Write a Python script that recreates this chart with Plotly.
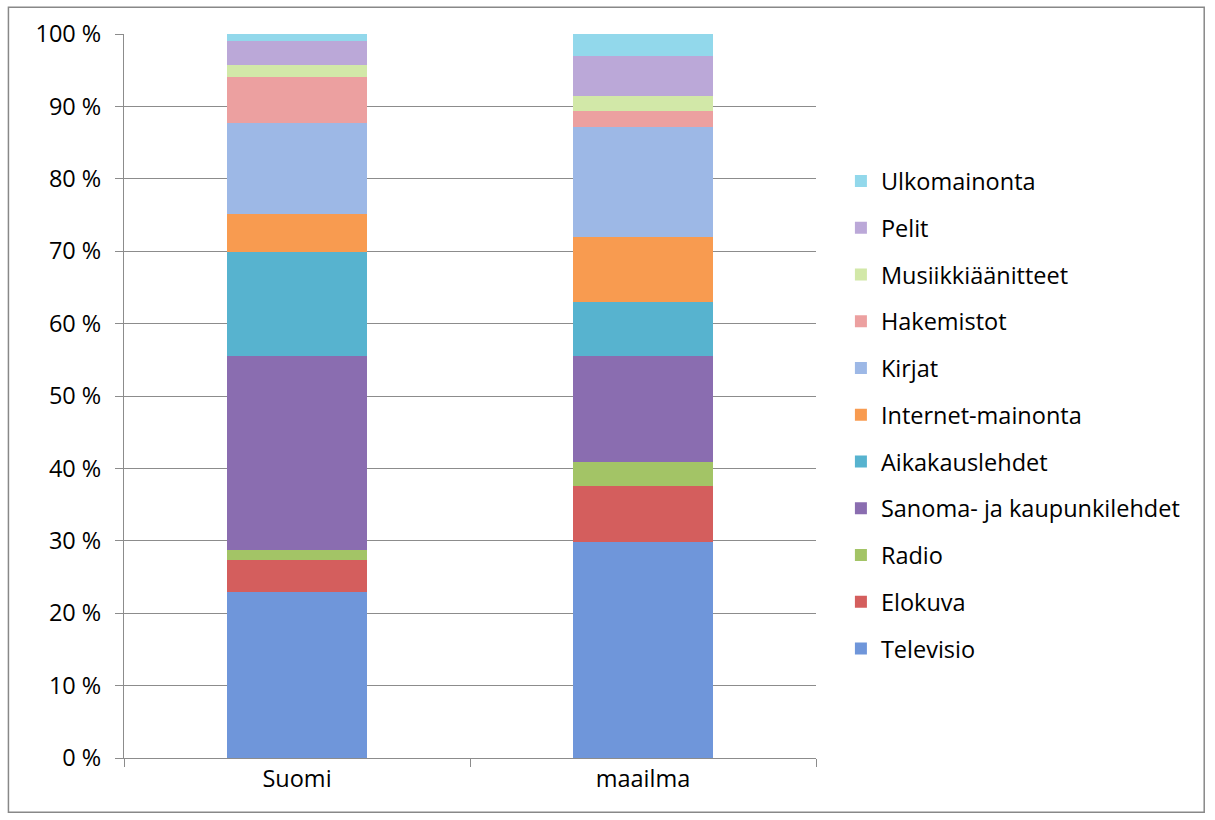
import plotly.graph_objects as go

categories = ["Suomi", "maailma"]
series_names = ["Televisio", "Elokuva", "Radio", "Sanoma- ja kaupunkilehdet", "Aikakauslehdet",
                "Internet-mainonta", "Kirjat", "Hakemistot", "Musiikkiäänitteet", "Pelit", "Ulkomainonta"]
televisio = [22.9, 29.9]
elokuva = [4.5, 7.7]
radio = [1.3, 3.3]
sanoma = [26.8, 14.6]
aikakaus = [14.4, 7.5]
internet = [5.2, 9.0]
kirjat = [12.6, 15.1]
hakemistot = [6.3, 2.2]
musiikki = [1.7, 2.1]
pelit = [3.4, 5.6]
ulko = [0.9, 3.0]
series_values = [televisio, elokuva, radio, sanoma, aikakaus, internet, kirjat,
                 hakemistot, musiikki, pelit, ulko]
colors = ["#6f96da", "#d45e5d", "#a3c466", "#8a6db0", "#57b3cf", "#f89b50",
          "#9db8e6", "#eca0a0", "#d2e8a8", "#bba8d8", "#92d8eb"]
tick_vals = [0, 10, 20, 30, 40, 50, 60, 70, 80, 90, 100]
tick_text = [f"{v} %" for v in tick_vals]

font = "'Open Sans', sans-serif"
fig = go.Figure()
n = len(series_names)
for i, (name, vals, col) in enumerate(zip(series_names, series_values, colors)):
    fig.add_trace(go.Bar(x=categories, y=vals, name=name, legendgroup=name,
                         legendrank=n - i,
                         marker=dict(color=col, line=dict(width=0))))

fig.update_layout(
    barmode="stack", bargap=0.595,
    width=1215, height=820,
    margin=dict(l=124, r=399, t=34, b=62),
    paper_bgcolor="white", plot_bgcolor="white",
    font=dict(family=font, size=23.5, color="#000000"),
    legend=dict(x=1.036, y=0.827, xanchor="left", yanchor="top",
                traceorder="grouped", tracegroupgap=13.2,
                font=dict(size=23.5), itemwidth=30),
    shapes=[dict(type="rect", xref="paper", yref="paper", x0=-0.167, x1=1.561,
                 y0=-0.075, y1=1.037, line=dict(color="#888888", width=1.5))],
)
fig.update_yaxes(range=[0, 100], tickvals=tick_vals, ticktext=tick_text,
                 showgrid=True, gridcolor="#8c8c8c", gridwidth=1,
                 showline=True, linecolor="#8c8c8c", linewidth=1,
                 ticks="outside", ticklen=8, tickcolor="#8c8c8c",
                 ticklabelstandoff=9, zeroline=False)
fig.update_xaxes(showline=True, linecolor="#8c8c8c", linewidth=1,
                 ticks="outside", ticklen=8, tickcolor="#8c8c8c",
                 tickson="boundaries", showgrid=False)
fig.write_html("out.html")
